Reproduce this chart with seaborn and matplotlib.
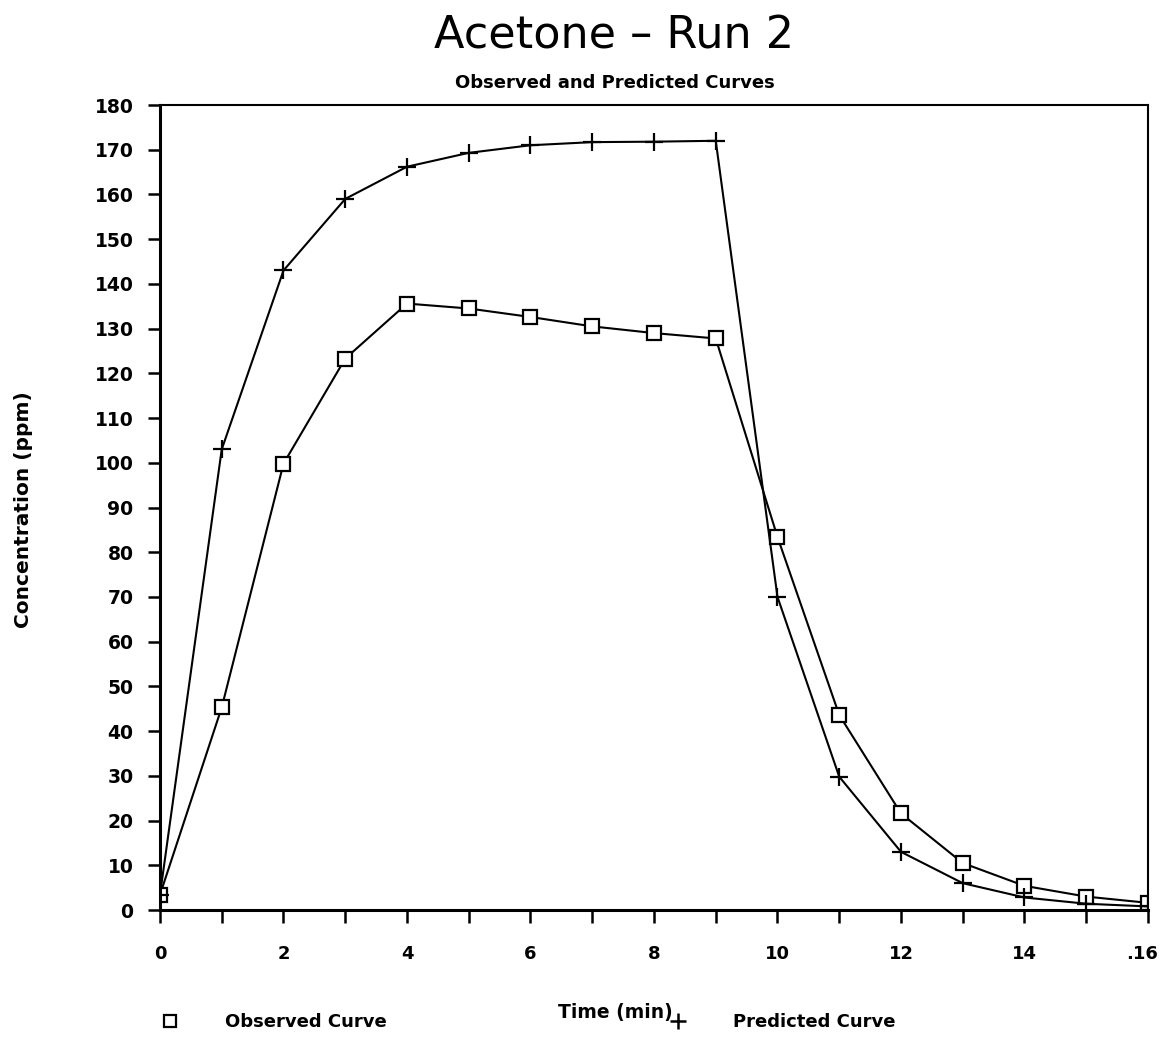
import matplotlib
matplotlib.use("Agg")
import matplotlib.pyplot as plt
from matplotlib.lines import Line2D
from matplotlib.transforms import ScaledTranslation
import seaborn as sns
import pandas as pd

time_min = [0, 1, 2, 3, 4, 5, 6, 7, 8, 9, 10, 11, 12, 13, 14, 15, 16]
observed = [3.4, 45.3, 99.8, 123.3, 135.6, 134.5, 132.6, 130.5, 129.0, 127.8,
            83.4, 43.6, 21.6, 10.5, 5.4, 3.0, 1.6]
predicted = [3.4, 103.0, 143.0, 159.0, 166.2, 169.3, 171.0, 171.7, 171.8, 172.0,
             70.0, 29.8, 13.0, 6.0, 2.8, 1.4, 0.8]

x_ticks = [0, 2, 4, 6, 8, 10, 12, 14, 16]
x_ticklabels = ["0", "2", "4", "6", "8", "10", "12", "14", ".16"]
y_ticks = list(range(0, 190, 10))

title = "Acetone \u2013 Run 2"
subtitle = "Observed and Predicted Curves"
x_label = "Time (min)"
y_label = "Concentration (ppm)"
legend_labels = ["Observed Curve", "Predicted Curve"]

df = pd.DataFrame({"t": time_min, "obs": observed, "pred": predicted})

sns.set_style("ticks")
plt.rcParams["font.family"] = ["DejaVu Sans"]
plt.rcParams["text.color"] = "black"
plt.rcParams["axes.labelcolor"] = "black"

fig = plt.figure(figsize=(11.61, 10.49), dpi=100)
ax = fig.add_axes([0.1378, 0.1325, 0.851, 0.7674])

sns.lineplot(data=df, x="t", y="obs", ax=ax, color="black", linewidth=1.5,
             marker="s", markersize=10.5, markerfacecolor="white",
             markeredgecolor="black", markeredgewidth=1.6)
sns.lineplot(data=df, x="t", y="pred", ax=ax, color="black", linewidth=1.5,
             marker="+", markersize=13, markeredgecolor="black",
             markeredgewidth=1.6)

ax.set_xlim(0, 16)
ax.set_ylim(0, 180)
ax.set_xticks(x_ticks)
ax.set_xticklabels(x_ticklabels)
ax.set_xticks(time_min, minor=True)
ax.set_yticks(y_ticks)
ax.tick_params(axis="x", which="both", direction="out", length=9, width=1.8,
               pad=16, labelsize=13, color="black", labelcolor="black")
ax.tick_params(axis="y", direction="out", length=9, width=1.8, pad=10,
               labelsize=13.5, color="black", labelcolor="black")
for lbl in ax.get_xticklabels() + ax.get_yticklabels():
    lbl.set_fontweight("bold")
last = ax.get_xticklabels()[-1]
last.set_transform(last.get_transform() +
                   ScaledTranslation(-6 / 100, 0, fig.dpi_scale_trans))

for side in ["left", "bottom"]:
    ax.spines[side].set_linewidth(2.2)
for side in ["top", "right"]:
    ax.spines[side].set_linewidth(1.5)
for s in ax.spines.values():
    s.set_color("black")

ax.set_xlabel(x_label, fontsize=13.5, fontweight="bold")
ax.xaxis.set_label_coords(0.4605, -0.1155)
ax.set_ylabel(y_label, fontsize=14.5, fontweight="bold")
ax.yaxis.set_label_coords(-0.1285, 0.4975)

fig.text(0.529, 0.9655, title, ha="center", va="center", fontsize=32,
         fontweight="normal")
fig.text(0.530, 0.921, subtitle, ha="center", va="center", fontsize=13,
         fontweight="bold")

handles = [
    Line2D([], [], linestyle="none", marker="s", markersize=9,
           markerfacecolor="white", markeredgecolor="black", markeredgewidth=1.6),
    Line2D([], [], linestyle="none", marker="+", markersize=12,
           markeredgecolor="black", markeredgewidth=1.8),
]
leg = fig.legend(handles, legend_labels, loc="center left",
                 bbox_to_anchor=(0.125, 0.0257), ncol=2, frameon=False,
                 handlelength=1.0, handletextpad=2.55, columnspacing=15.6,
                 prop={"size": 13, "weight": "bold"})

fig.savefig("out.png", dpi=100, facecolor="white")
